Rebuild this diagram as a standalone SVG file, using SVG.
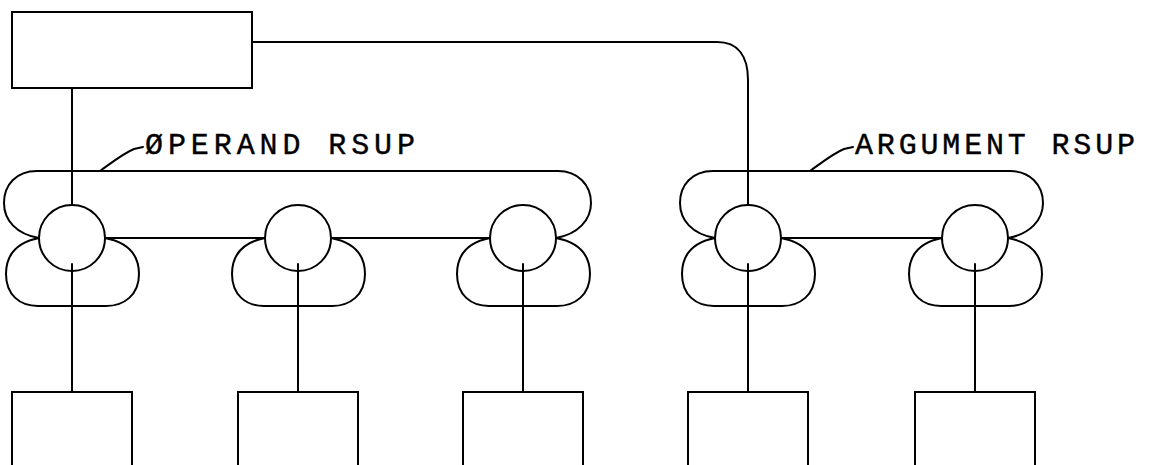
<svg xmlns="http://www.w3.org/2000/svg" width="1149" height="465" viewBox="0 0 1149 465">
<style>
.s{fill:none;stroke:#000;stroke-width:2;stroke-linejoin:round;stroke-linecap:round}
.n{fill:#fff;stroke:#000;stroke-width:2}
.t{font-family:"Liberation Mono","DejaVu Sans Mono",monospace;font-size:30px;fill:#000;stroke:#000;stroke-width:0.4}
</style>
<rect width="1149" height="465" fill="#fff"/>
<g id="connectors" class="s">
  <path d="M72,88 L72,206"/>
  <path d="M252,42 L717,42 C738,42 748,56 748,80 L748,206"/>
  <path id="operand-rsup" d="M39,238 C16,234 4,220 4,203 C4,185 16,171 37,171 L558,171 C578,171 591,185 591,203 C591,220 578,234 556,238"/>
  <path id="argument-rsup" d="M715,238 C692,234 680,220 680,203 C680,185 692,171 713,171 L1010,171 C1030,171 1043,185 1043,203 C1043,220 1030,234 1008,238"/>
  <path d="M105,238 L265,238 M331,238 L490,238 M781,238 L942,238"/>
  <path d="M39,238 C14,243 6,258 6,274 C6,295 20,306 38,306 L106,306 C124,306 139,295 139,274 C139,258 131,243 105,238"/>
  <path d="M265,238 C240,243 232,258 232,274 C232,295 246,306 264,306 L332,306 C350,306 365,295 365,274 C365,258 357,243 331,238"/>
  <path d="M490,238 C465,243 457,258 457,274 C457,295 471,306 489,306 L557,306 C575,306 590,295 590,274 C590,258 582,243 556,238"/>
  <path d="M715,238 C690,243 682,258 682,274 C682,295 696,306 714,306 L782,306 C800,306 815,295 815,274 C815,258 807,243 781,238"/>
  <path d="M942,238 C917,243 909,258 909,274 C909,295 923,306 941,306 L1009,306 C1027,306 1042,295 1042,274 C1042,258 1034,243 1008,238"/>
  <path d="M100,171 C114,161 124,153 134,149 L143,147"/>
  <path d="M810,171 C824,161 834,153 844,149 L853,147"/>
</g>
<g id="top-box"><rect class="n" x="12" y="12" width="240" height="76"/></g>
<g id="c1"><circle class="n" cx="72" cy="238" r="33"/></g>
<g id="c2"><circle class="n" cx="298" cy="238" r="33"/></g>
<g id="c3"><circle class="n" cx="523" cy="238" r="33"/></g>
<g id="c4"><circle class="n" cx="748" cy="238" r="33"/></g>
<g id="c5"><circle class="n" cx="975" cy="238" r="33"/></g>
<g id="down-links" class="s">
  <path d="M72,264 L72,392 M298,264 L298,392 M523,264 L523,392 M748,264 L748,392 M975,264 L975,392"/>
</g>
<g id="b1"><rect class="n" x="12" y="392" width="120" height="85"/></g>
<g id="b2"><rect class="n" x="238" y="392" width="120" height="85"/></g>
<g id="b3"><rect class="n" x="463" y="392" width="120" height="85"/></g>
<g id="b4"><rect class="n" x="688" y="392" width="120" height="85"/></g>
<g id="b5"><rect class="n" x="915" y="392" width="120" height="85"/></g>
<g id="labels">
  <text class="t" x="145" y="154" textLength="270" lengthAdjust="spacing">ØPERAND RSUP</text>
  <text class="t" x="855" y="154" textLength="280" lengthAdjust="spacing">ARGUMENT RSUP</text>
</g>
</svg>
